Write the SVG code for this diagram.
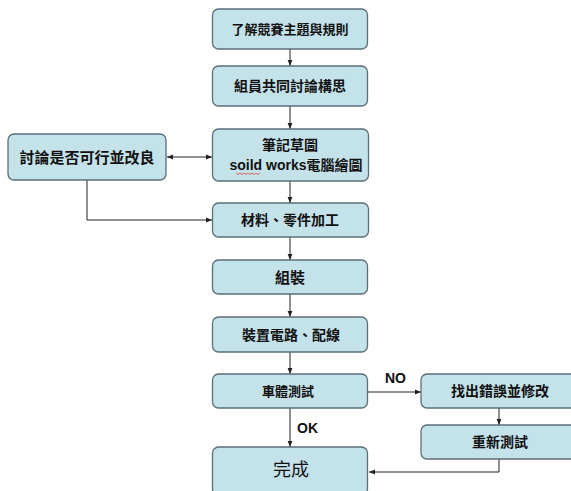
<svg xmlns="http://www.w3.org/2000/svg" width="571" height="491" viewBox="0 0 571 491">
<defs>
<style>
.box{fill:#c4e2e9;stroke:#5b6f77;stroke-width:1.3}
.t{font-family:"Liberation Sans","Noto Sans CJK TC",sans-serif;font-weight:bold;fill:#111;text-anchor:middle;dominant-baseline:central}
.c{fill:none;stroke:#222;stroke-width:1}
.lbl{font-family:"Liberation Sans",Arial,sans-serif;font-weight:bold;font-size:14px;fill:#111}
</style>
<marker id="ah" viewBox="0 0 10 10" refX="10" refY="5" markerWidth="6" markerHeight="6" orient="auto-start-reverse" markerUnits="userSpaceOnUse">
<path d="M0,1 L10,5 L0,9 z" fill="#222"/>
</marker>
</defs>
<rect width="571" height="491" fill="#fff"/>
<g id="connectors">
<path class="c" d="M290,49 V66" marker-end="url(#ah)"/>
<path class="c" d="M290,106 V129" marker-end="url(#ah)"/>
<path class="c" d="M167,157 H212" marker-start="url(#ah)" marker-end="url(#ah)"/>
<path class="c" d="M290,181 V203" marker-end="url(#ah)"/>
<path class="c" d="M87,180 V220 H212" marker-end="url(#ah)"/>
<path class="c" d="M290,237 V260" marker-end="url(#ah)"/>
<path class="c" d="M290,294 V317" marker-end="url(#ah)"/>
<path class="c" d="M290,352 V374" marker-end="url(#ah)"/>
<path class="c" d="M368,392 H421" marker-end="url(#ah)"/>
<path class="c" d="M290,408 V447" marker-end="url(#ah)"/>
<path class="c" d="M499,408 V425" marker-end="url(#ah)"/>
<path class="c" d="M499,459 V472 H369" marker-end="url(#ah)"/>
<text class="lbl" x="385" y="383">NO</text>
<text class="lbl" x="297" y="433">OK</text>
</g>
<g id="n1"><rect class="box" x="212.5" y="9" width="155" height="40" rx="6"/><text class="t" x="290" y="29" font-size="13">了解競賽主題與規則</text></g>
<g id="n2"><rect class="box" x="212.5" y="66" width="155" height="40" rx="6"/><text class="t" x="290" y="86" font-size="14">組員共同討論構思</text></g>
<g id="n3"><rect class="box" x="212.5" y="129" width="156" height="52" rx="6"/><text class="t" x="290" y="145" font-size="14">筆記草圖</text><text class="t" x="296" y="165" font-size="14">soild works電腦繪圖</text><path d="M236,173 l2,1.5 2,-1.5 2,1.5 2,-1.5 2,1.5 2,-1.5 2,1.5 2,-1.5 2,1.5 2,-1.5 2,1.5 2,-1.5" fill="none" stroke="#d44" stroke-width="0.8"/></g>
<g id="n4"><rect class="box" x="8" y="134" width="158" height="46" rx="6"/><text class="t" x="87" y="157" font-size="15">討論是否可行並改良</text></g>
<g id="n5"><rect class="box" x="212.5" y="203" width="156" height="34" rx="6"/><text class="t" x="290" y="220" font-size="14">材料、零件加工</text></g>
<g id="n6"><rect class="box" x="212.5" y="260" width="155" height="34" rx="6"/><text class="t" x="290" y="277" font-size="15">組裝</text></g>
<g id="n7"><rect class="box" x="212.5" y="317" width="155" height="35" rx="6"/><text class="t" x="291" y="334.5" font-size="14">裝置電路、配線</text></g>
<g id="n8"><rect class="box" x="212.5" y="374" width="155" height="34" rx="6"/><text class="t" x="288" y="391" font-size="13">車體測試</text></g>
<g id="n9"><rect class="box" x="421" y="374" width="157" height="34" rx="6"/><text class="t" x="500" y="391" font-size="14">找出錯誤並修改</text></g>
<g id="n10"><rect class="box" x="421" y="425" width="157" height="34" rx="6"/><text class="t" x="500" y="442" font-size="14">重新測試</text></g>
<g id="n11"><rect class="box" x="212.5" y="447" width="155" height="48" rx="6"/><text class="t" x="291" y="470" font-size="18" style="font-weight:normal">完成</text></g>
</svg>
